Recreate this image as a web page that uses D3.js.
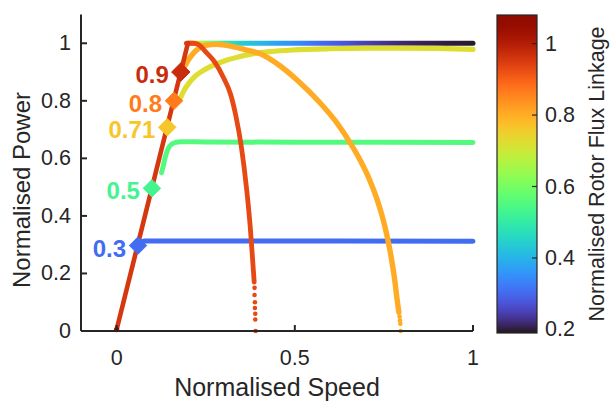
<!DOCTYPE html>
<html><head><meta charset="utf-8">
<script src="https://cdn.jsdelivr.net/npm/d3@7"></script>
<style>
body{margin:0;background:#fff}
svg{display:block}
text{font-family:"Liberation Sans",Arial,Helvetica,sans-serif;fill:#262626}
</style>
</head><body><svg id="c" width="611" height="408"></svg>
<script>
// ---------- data ----------
const xTicks = [0, 0.5, 1];
const yTicks = [0, 0.2, 0.4, 0.6, 0.8, 1];
const cbTicks = [0.2, 0.4, 0.6, 0.8, 1];
const fluxRange = [0.19, 1.08];

// constant-torque ramp
const rampSpeed = [0, 0.2];
const rampPower = [0.005, 1.0];
const rampFlux = 0.955;

// rated-power line (colour follows flux)
const topSpeed = [0.196, 0.205, 0.215, 0.225, 0.24, 0.26, 0.28, 0.30, 0.325, 0.35, 0.40, 0.45, 0.514, 0.57, 0.627, 0.68, 0.74, 0.79, 0.845, 0.9, 0.95, 1.0];
const topFlux  = [0.94, 0.86, 0.80, 0.74, 0.67, 0.60, 0.555, 0.51, 0.47, 0.44, 0.41, 0.375, 0.34, 0.305, 0.28, 0.255, 0.235, 0.22, 0.21, 0.203, 0.198, 0.195];
const topPower = [1.0, 1.0];

// flux 0.71 curve
const yelSpeed = [0.175, 0.19, 0.205, 0.22, 0.24, 0.26, 0.28, 0.31, 0.34, 0.38, 0.43, 0.5, 0.6, 0.7, 0.8, 0.9, 1.0];
const yelPower = [0.80, 0.838, 0.865, 0.885, 0.903, 0.917, 0.928, 0.942, 0.952, 0.963, 0.971, 0.977, 0.981, 0.983, 0.983, 0.982, 0.979];
const yelFlux = 0.724;

// flux 0.5 curve
const grnSpeed = [0.126, 0.131, 0.137, 0.145, 0.155, 0.167, 0.18, 0.25, 0.5, 0.75, 1.0];
const grnPower = [0.55, 0.575, 0.607, 0.635, 0.65, 0.656, 0.658, 0.657, 0.656, 0.656, 0.655];
const grnFlux = 0.555;

// flux 0.3 curve
const bluSpeed = [0.062, 0.07, 0.08, 0.3, 0.6, 1.0];
const bluPower = [0.300, 0.311, 0.313, 0.313, 0.313, 0.312];
const bluFlux = 0.306;

// flux 0.8 curve
const orgSpeed = [0.185, 0.2, 0.215, 0.23, 0.25, 0.28, 0.32, 0.36, 0.40, 0.46, 0.51, 0.57, 0.62, 0.655, 0.685, 0.71, 0.73, 0.745, 0.758, 0.77, 0.78, 0.787, 0.792];
const orgPower = [0.905, 0.94, 0.965, 0.982, 0.993, 0.996, 0.99, 0.978, 0.965, 0.92, 0.868, 0.794, 0.72, 0.655, 0.59, 0.525, 0.46, 0.40, 0.335, 0.26, 0.18, 0.11, 0.065];
const orgTailSpeed = [0.794, 0.795, 0.796, 0.797];
const orgTailPower = [0.05, 0.037, 0.025, 0.0];
const orgFlux = 0.804;

// flux 0.9 curve
const redSpeed = [0.2, 0.215, 0.23, 0.25, 0.275, 0.3, 0.32, 0.335, 0.35, 0.365, 0.375, 0.382, 0.386];
const redPower = [1.0, 1.0, 0.995, 0.97, 0.935, 0.88, 0.822, 0.745, 0.64, 0.49, 0.36, 0.24, 0.17];
const redTailSpeed = [0.387, 0.387, 0.388, 0.388, 0.389, 0.389, 0.39];
const redTailPower = [0.15, 0.125, 0.10, 0.08, 0.06, 0.04, 0.0];
const redFlux = 0.93;

// start markers
const markerLabels = ["0.3", "0.5", "0.71", "0.8", "0.9"];
const markerSpeed = [0.06, 0.099, 0.142, 0.161, 0.18];
const markerPower = [0.297, 0.496, 0.708, 0.80, 0.90];
const markerFlux = [0.306, 0.53, 0.764, 0.866, 0.973];

// ---------- drawing ----------
const svg = d3.select("#c");
const x = d3.scaleLinear().domain([-0.1, 1]).range([81, 473]);
const y = d3.scaleLinear().domain([0, 1.1]).range([331, 14.5]);
const color = d3.scaleSequential(d3.interpolateTurbo).domain(fluxRange);
const zip = (a, b) => a.map((v, i) => [v, b[i]]);
const line = d3.line().x(d => x(d[0])).y(d => y(d[1])).curve(d3.curveMonotoneX);
const defs = svg.append("defs");

const plot = svg.append("g");
const LW = 5;

// top line gradient
const tg = defs.append("linearGradient").attr("id", "topGrad")
  .attr("gradientUnits", "userSpaceOnUse")
  .attr("x1", x(topSpeed[0])).attr("x2", x(topSpeed[topSpeed.length - 1]))
  .attr("y1", 0).attr("y2", 0);
const span = topSpeed[topSpeed.length - 1] - topSpeed[0];
topSpeed.forEach((s, i) => {
  tg.append("stop").attr("offset", (s - topSpeed[0]) / span).attr("stop-color", color(topFlux[i]));
});

function curve(sp, pw, c, w) {
  plot.append("path").attr("d", line(zip(sp, pw))).attr("fill", "none")
    .attr("stroke", c).attr("stroke-width", w || LW)
    .attr("stroke-linecap", "round").attr("stroke-linejoin", "round");
}
function dots(sp, pw, c) {
  plot.selectAll(null).data(zip(sp, pw)).enter().append("circle")
    .attr("cx", d => x(d[0])).attr("cy", d => y(d[1])).attr("r", 2.3).attr("fill", c);
}

curve([topSpeed[0], topSpeed[topSpeed.length - 1]], topPower, "url(#topGrad)");
curve(yelSpeed, yelPower, color(yelFlux), 5.2);
curve(grnSpeed, grnPower, color(grnFlux));
curve(bluSpeed, bluPower, color(bluFlux));
curve(orgSpeed, orgPower, color(orgFlux), 5.4);
dots(orgTailSpeed, orgTailPower, color(orgFlux));
curve(redSpeed, redPower, color(redFlux), 4.8);
dots(redTailSpeed, redTailPower, color(redFlux));
curve(rampSpeed, rampPower, color(rampFlux), 4.6);
plot.append("circle").attr("cx", x(rampSpeed[0])).attr("cy", y(rampPower[0])).attr("r", 2.6).attr("fill", color(1.07));

// markers
const mk = plot.selectAll(null).data(markerLabels).enter().append("g")
  .attr("transform", (d, i) => `translate(${x(markerSpeed[i])},${y(markerPower[i])})`);
mk.append("path").attr("d", (d, i) => { const r = i === 4 ? 9.2 : 8.7; return `M0,${-r}L${r},0L0,${r}L${-r},0Z`; })
  .attr("fill", (d, i) => color(markerFlux[i]))
  .attr("stroke", (d, i) => color(markerFlux[i])).attr("stroke-width", 1).attr("stroke-linejoin", "round");
mk.append("text").text(d => d).attr("x", -12).attr("y", 2.5)
  .attr("text-anchor", "end").attr("dominant-baseline", "central")
  .style("font-weight", "bold").style("font-size", "24px")
  .style("fill", (d, i) => color(markerFlux[i]));

// axes
const axC = "#262626";
const ax = svg.append("g");
ax.append("line").attr("x1", 81).attr("x2", 473).attr("y1", 331).attr("y2", 331).attr("stroke", axC).attr("stroke-width", 2);
ax.append("line").attr("x1", 81).attr("x2", 81).attr("y1", 331).attr("y2", 14.5).attr("stroke", axC).attr("stroke-width", 2);
ax.selectAll(null).data(xTicks).enter().append("line")
  .attr("x1", d => x(d)).attr("x2", d => x(d)).attr("y1", 331).attr("y2", 325).attr("stroke", axC).attr("stroke-width", 2);
ax.selectAll(null).data(yTicks).enter().append("line")
  .attr("x1", 81).attr("x2", 87).attr("y1", d => y(d)).attr("y2", d => y(d)).attr("stroke", axC).attr("stroke-width", 2);
ax.selectAll(null).data(xTicks).enter().append("text")
  .attr("x", d => x(d)).attr("y", 365).attr("text-anchor", "middle").style("font-size", "21.5px")
  .text(d => d3.format("~g")(d));
ax.selectAll(null).data(yTicks).enter().append("text")
  .attr("x", 71).attr("y", d => y(d)).attr("text-anchor", "end").attr("dominant-baseline", "central")
  .style("font-size", "21.5px").text(d => d3.format("~g")(d));
ax.append("text").attr("x", 277).attr("y", 396).attr("text-anchor", "middle").style("font-size", "25px").text("Normalised Speed");
ax.append("text").attr("transform", "translate(21,190) rotate(-90)").attr("text-anchor", "middle")
  .attr("dominant-baseline", "central").style("font-size", "24px").text("Normalised Power");

// colorbar
const cb = d3.scaleLinear().domain(fluxRange).range([333, 15]);
const cg = defs.append("linearGradient").attr("id", "cbGrad").attr("x1", 0).attr("x2", 0).attr("y1", 1).attr("y2", 0);
d3.range(0, 1.0001, 0.025).forEach(t => {
  cg.append("stop").attr("offset", t).attr("stop-color", color(fluxRange[0] + t * (fluxRange[1] - fluxRange[0])));
});
svg.append("rect").attr("x", 497).attr("y", cb(fluxRange[1])).attr("width", 40)
  .attr("height", cb(fluxRange[0]) - cb(fluxRange[1])).attr("fill", "url(#cbGrad)")
  .attr("stroke", axC).attr("stroke-width", 1.2);
svg.selectAll(null).data(cbTicks).enter().append("line")
  .attr("x1", 537).attr("x2", 532).attr("y1", d => cb(d)).attr("y2", d => cb(d)).attr("stroke", axC).attr("stroke-width", 1.2);
svg.selectAll(null).data(cbTicks).enter().append("text")
  .attr("x", 545).attr("y", d => cb(d)).attr("dominant-baseline", "central").style("font-size", "21.5px")
  .text(d => d3.format("~g")(d));
svg.append("text").attr("transform", "translate(597,174) rotate(-90)").attr("text-anchor", "middle")
  .attr("dominant-baseline", "central").style("font-size", "21.5px").text("Normalised Rotor Flux Linkage");
</script></body></html>
